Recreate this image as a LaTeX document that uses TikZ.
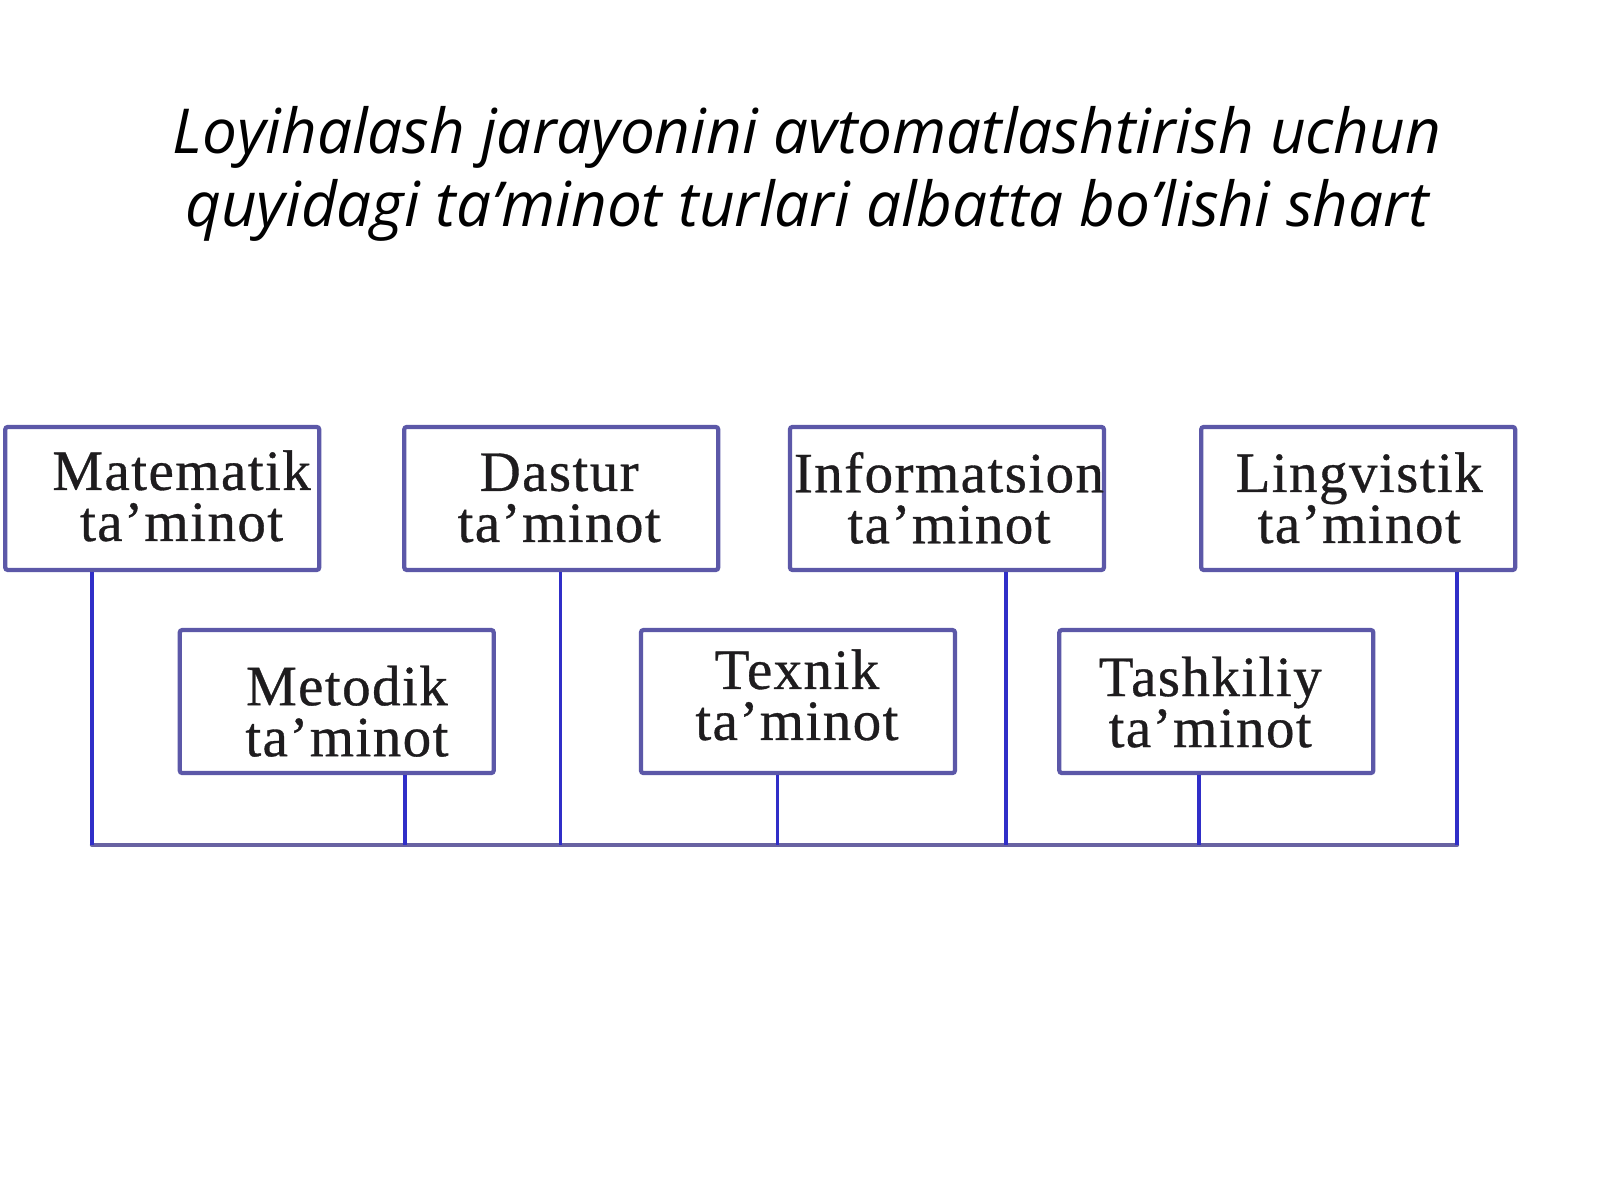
\documentclass[tikz,border=0pt]{standalone}
\usepackage{fontspec}
\setmainfont{Liberation Serif}
\newfontfamily\boxfont[Ligatures=TeX,LetterSpace=2.5,FakeBold=0.6]{Liberation Serif}
\newfontfamily\titlefont{Open Sans}
\usetikzlibrary{calc}
\definecolor{boxc}{RGB}{92,88,168}
\definecolor{linec}{RGB}{48,46,200}
\definecolor{busc}{RGB}{104,98,162}
\definecolor{textc}{RGB}{30,28,30}
\begin{document}
\begin{tikzpicture}[x=1.0204pt,y=-1.0204pt,
  box/.style={draw=boxc,line width=4.2pt,rounded corners=2.5pt,fill=white,
    minimum width=314pt,minimum height=143pt,inner sep=0pt},
  lbl/.style={font=\boxfont\fontsize{57}{51}\selectfont,align=center,text=textc,inner sep=0pt},
  ttl/.style={font=\titlefont\itshape\fontsize{62}{62}\selectfont,text=black,anchor=base,inner sep=0pt},
  conn/.style={draw=linec,line width=3.4pt},
  busline/.style={draw=busc,line width=4pt,line cap=round}]
\useasboundingbox[fill=white] (0,0) rectangle (1568,1176);

% title
\node[ttl] (title1) at (791,150) {Loyihalash jarayonini avtomatlashtirish uchun};
\node[ttl] (title2) at (791,222) {quyidagi ta’minot turlari albatta bo’lishi shart};

% boxes
\node[box] (mat)  at (159,488.5) {};
\node[box] (das)  at (550,488.5) {};
\node[box] (inf)  at (928,488.5) {};
\node[box] (ling) at (1331,488.5) {};
\node[box] (met)  at (330,687.5) {};
\node[box] (tex)  at (782,687.5) {};
\node[box] (tash) at (1192,687.5) {};

% labels
\node[lbl] (matT)  at (178,486) {Matematik\\ta'minot};
\node[lbl] (dasT)  at (548,488) {Dastur\\ta'minot};
\node[lbl] (infT)  at (930,488) {Informatsion\\ta'minot};
\node[lbl] (lingT) at (1332,488) {Lingvistik\\ta'minot};
\node[lbl] (metT)  at (340,697) {Metodik\\ta'minot};
\node[lbl] (texT)  at (781,681) {Texnik\\ta'minot};
\node[lbl] (tashT) at (1186,688) {Tashkiliy\\ta'minot};

% connector attachment points
\coordinate (bus) at (0,828);
\coordinate (pmat)  at ($(mat.south)+(-69,0)$);
\coordinate (pdas)  at ($(das.south)+(-1,0)$);
\coordinate (pinf)  at ($(inf.south)+(58,0)$);
\coordinate (pling) at ($(ling.south)+(97,0)$);
\coordinate (pmet)  at ($(met.south)+(67,0)$);
\coordinate (ptex)  at ($(tex.south)+(-20,0)$);
\coordinate (ptash) at ($(tash.south)+(-17,0)$);

% bus
\draw[busline] (pmat |- bus) -- (pling |- bus);
% verticals
\foreach \p in {pmat,pdas,pinf,pling,pmet,ptex,ptash}
  \draw[conn] (\p) -- (\p |- bus);
\end{tikzpicture}
\end{document}
